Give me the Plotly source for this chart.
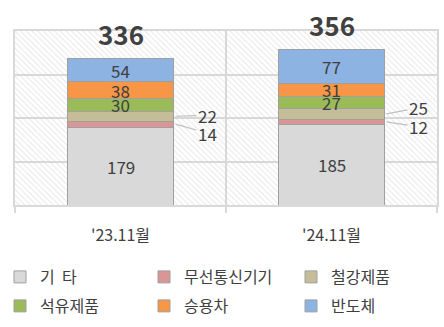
import plotly.graph_objects as go

# ---- data ----
categories = ["'23.11월", "'24.11월"]
series_names = ["기  타", "무선통신기기", "철강제품", "석유제품", "승용차", "반도체"]
v_etc = [179, 185]
v_wireless = [14, 12]
v_steel = [22, 25]
v_petro = [30, 27]
v_car = [38, 31]
v_semi = [54, 77]
totals = [336, 356]

series_values = [v_etc, v_wireless, v_steel, v_petro, v_car, v_semi]
colors = ["#d9d9d9", "#da9694", "#c4bd97", "#9bbb59", "#f79646", "#8db3e2"]
Y_MAX = 400

FONT = "Noto Sans CJK KR, Noto Sans, sans-serif"
TXT = "#404040"
GRID = "#d9d9d9"

# labels drawn outside with leader lines (style: vertical pixel offsets per bar)
outside_dy = {"무선통신기기": [9, 5], "철강제품": [-1, -6]}

# legend grid placement (style): column left edges and row centres in px
leg_cols = [-3, 144, 291]
leg_rows = [277, 306]

fig = go.Figure()

# hatched background on main axes
fig.add_trace(go.Bar(
    x=categories, y=[Y_MAX] * len(categories), width=1.0,
    marker=dict(color="rgba(0,0,0,0)", line=dict(width=0),
                pattern=dict(shape="\\", fgcolor="#cfcfcf", bgcolor="rgba(0,0,0,0)",
                             size=4, solidity=0.25)),
    showlegend=False, hoverinfo="skip", xaxis="x", yaxis="y"))

legends = {}
for i, (name, vals, col) in enumerate(zip(series_names, series_values, colors)):
    lname = "legend" if i == 0 else f"legend{i + 1}"
    fig.add_trace(go.Bar(
        x=categories, y=vals, name=name, width=0.5,
        marker=dict(color=col, line=dict(color="#a0a0a0", width=1)),
        xaxis="x2", yaxis="y2", legend=lname))
    legends[lname] = dict(
        orientation="h", xanchor="left", yanchor="middle",
        xref="container", yref="container",
        x=leg_cols[i % 3] / 444, y=1 - leg_rows[i // 3] / 327,
        font=dict(family=FONT, size=16, color=TXT),
        bgcolor="rgba(0,0,0,0)", itemwidth=30)

annotations = []
base = [0] * len(categories)
for name, vals in zip(series_names, series_values):
    for j, (c, v) in enumerate(zip(categories, vals)):
        mid = base[j] + v / 2
        if name in outside_dy:
            annotations.append(dict(
                x=c, y=mid, xref="x2", yref="y2", text=str(v), showarrow=True,
                ax=32, ay=outside_dy[name][j], xshift=55, arrowhead=0,
                arrowcolor="#bfbfbf", arrowwidth=1.2, standoff=0,
                font=dict(family=FONT, size=17, color=TXT)))
        else:
            annotations.append(dict(
                x=c, y=mid, xref="x2", yref="y2", text=str(v), showarrow=False,
                font=dict(family=FONT, size=17, color=TXT)))
        base[j] += v

for c, t in zip(categories, totals):
    annotations.append(dict(
        x=c, y=t, xref="x2", yref="y2", text=f"<b>{t}</b>", showarrow=False,
        yanchor="bottom", yshift=5,
        font=dict(family=FONT, size=26, color=TXT)))

fig.update_layout(
    width=444, height=327, autosize=False,
    margin=dict(l=15, r=7, t=31, b=122, autoexpand=False),
    paper_bgcolor="white", plot_bgcolor="white",
    barmode="stack",
    showlegend=True,
    xaxis=dict(type="category", categoryorder="array", categoryarray=categories,
               range=[-0.5, 1.5], tickson="boundaries", showgrid=True,
               gridcolor=GRID, gridwidth=2, ticks="outside", ticklen=6,
               tickcolor=GRID, tickwidth=2, showline=True, linecolor=GRID,
               linewidth=2, mirror=True, ticklabelstandoff=15,
               tickfont=dict(family=FONT, size=16, color=TXT)),
    yaxis=dict(range=[0, Y_MAX], dtick=100, showgrid=True, gridcolor=GRID,
               gridwidth=2, showticklabels=False, zeroline=False,
               showline=True, linecolor=GRID, linewidth=2, mirror=True),
    xaxis2=dict(type="category", categoryorder="array", categoryarray=categories,
                range=[-0.5, 1.5], overlaying="x", visible=False),
    yaxis2=dict(range=[0, Y_MAX], overlaying="y", visible=False),
    annotations=annotations,
    bargap=0.5,
    **legends,
)

fig.write_html("out.html")
